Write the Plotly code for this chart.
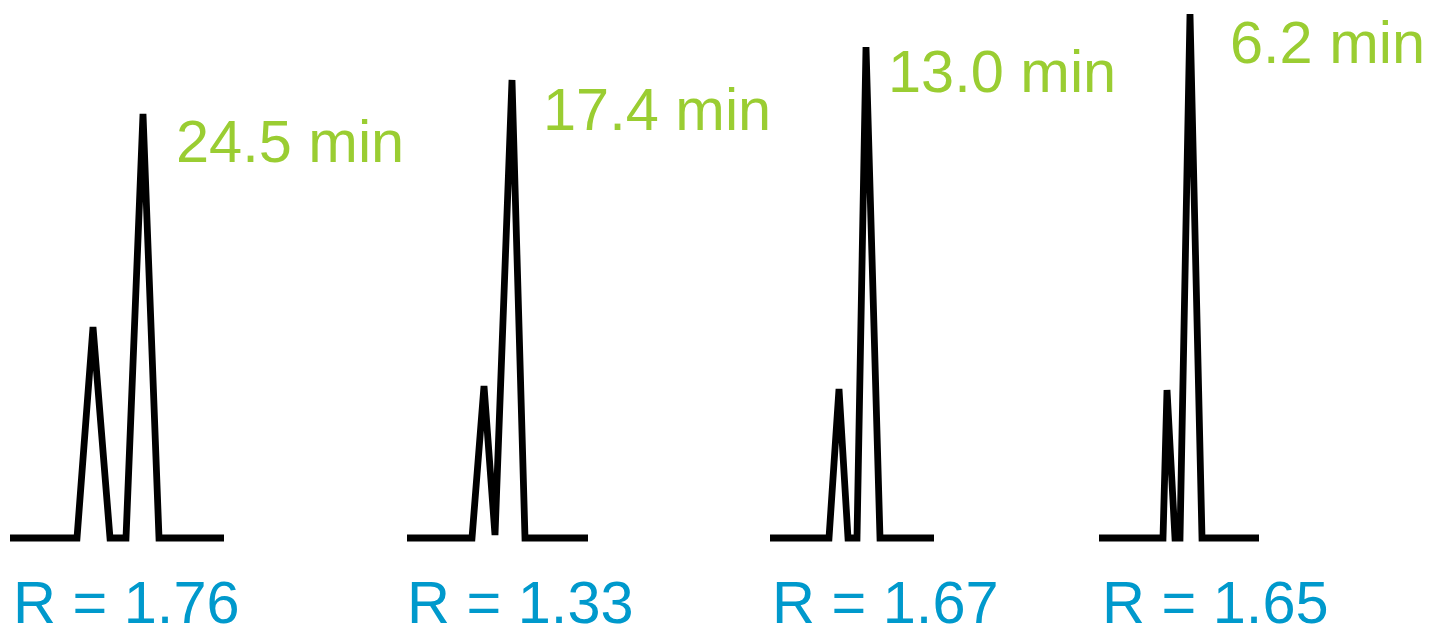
import plotly.graph_objects as go

# Chromatogram traces: time position (px-scaled) and detector signal above baseline
t1 = [10, 77, 93, 110, 126, 143, 159, 224]
s1 = [0, 0, 211, 0, 0, 424, 0, 0]
t2 = [407, 472, 484, 495, 512, 525, 588]
s2 = [0, 0, 152, 3, 458, 0, 0]
t3 = [770, 829, 839, 848, 857, 866, 880, 934]
s3 = [0, 0, 149, 0, 0, 491, 0, 0]
t4 = [1099, 1163, 1167, 1175, 1180, 1190, 1202, 1259]
s4 = [0, 0, 148, 0, 0, 524, 0, 0]

run_times = ["24.5 min", "17.4 min", "13.0 min", "6.2 min"]
time_label_x = [174, 541, 886, 1228]
time_label_y = [397, 429, 467, 496]
resolutions = ["R = 1.76", "R = 1.33", "R = 1.67", "R = 1.65"]
res_label_x = [11, 405, 770, 1100]
res_label_y = -64

GREEN = "#9ACD32"
BLUE = "#0099CC"

fig = go.Figure()
for t, s in [(t1, s1), (t2, s2), (t3, s3), (t4, s4)]:
    fig.add_trace(go.Scatter(x=t, y=s, mode="lines",
                             line=dict(color="black", width=6.8),
                             hoverinfo="skip", showlegend=False))

for txt, x, y in zip(run_times, time_label_x, time_label_y):
    fig.add_annotation(x=x, y=y, xref="x", yref="y", text=txt, showarrow=False,
                       xanchor="left", yanchor="middle",
                       font=dict(family="Liberation Sans, Arial", size=59.5, color=GREEN))
for txt, x in zip(resolutions, res_label_x):
    fig.add_annotation(x=x, y=res_label_y, xref="x", yref="y", text=txt, showarrow=False,
                       xanchor="left", yanchor="middle",
                       font=dict(family="Liberation Sans, Arial", size=59.5, color=BLUE))

# page has an 8px body margin; the figure fills the rest of the 1430x626 window
fig.update_layout(
    width=1422, height=618,
    margin=dict(l=0, r=0, t=0, b=0),
    paper_bgcolor="white", plot_bgcolor="white",
    xaxis=dict(range=[8, 1430], visible=False, fixedrange=True),
    yaxis=dict(range=[-88, 530], visible=False, fixedrange=True),
)
fig.write_html("out.html", config={"displayModeBar": False})
